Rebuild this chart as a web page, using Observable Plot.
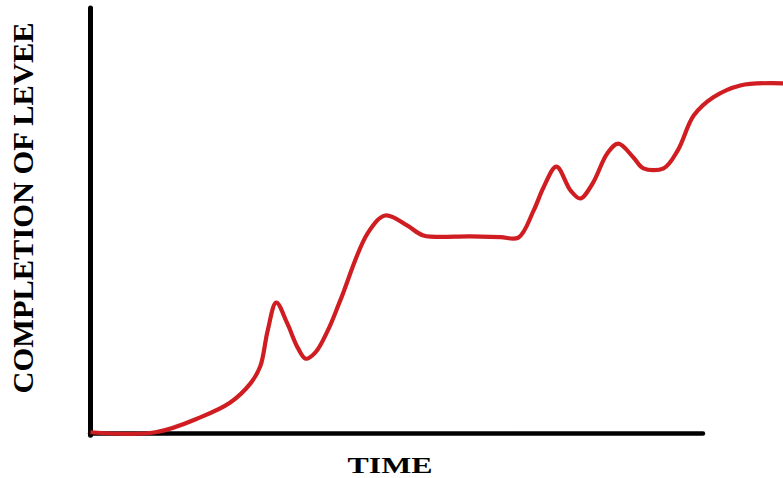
<!DOCTYPE html>
<html>
<head>
<meta charset="utf-8">
<script src="https://cdn.jsdelivr.net/npm/d3@7"></script>
<script src="https://cdn.jsdelivr.net/npm/@observablehq/plot@0.6"></script>
<style>
  html, body { margin: 0; padding: 0; background: #fff; }
</style>
</head>
<body>
<div id="chart"></div>
<script>
// Time (arbitrary units; the drawn x axis spans 0–100, the curve runs past it)
const time = [0, 10.6, 17.9, 22.8, 26.1, 27.7, 28.9, 30.3, 32.1, 33.8, 35.1, 36.7, 38.7, 40.8, 45.2, 48.1, 51.7, 54.3, 62.0, 66.9, 69.8, 72.3, 73.9, 76.0, 78.3, 79.9, 81.9, 84.3, 86.1, 88.6, 90.2, 93.5, 95.8, 98.4, 101.6, 106.0, 113.1];
// Completion of levee (arbitrary units, 0–100)
const completion = [0.3, 0.3, 3.8, 7.3, 11.8, 15.8, 24.2, 30.8, 25.9, 20.2, 17.6, 19.1, 24.2, 31.5, 47.1, 51.3, 48.9, 46.6, 46.4, 46.2, 46.1, 52.5, 57.9, 62.8, 57.2, 55.3, 58.8, 65.9, 68.2, 64.9, 62.4, 62.4, 66.6, 74.8, 79.1, 81.9, 82.4];
const xLabel = "TIME";
const yLabel = "COMPLETION OF LEVEE";

const data = time.map((t, i) => ({t, v: completion[i]}));

const chart = Plot.plot({
  width: 783,
  height: 478,
  marginLeft: 90,
  marginRight: 80,
  marginTop: 8,
  marginBottom: 45,
  x: {domain: [0, 100], axis: null},
  y: {domain: [0, 100], axis: null},
  marks: [
    Plot.ruleX([0], {y1: -0.5, y2: 100, stroke: "#000", strokeWidth: 5, strokeLinecap: "round"}),
    Plot.ruleY([0], {x1: 0, x2: 100, stroke: "#000", strokeWidth: 4.5, strokeLinecap: "round"}),
    Plot.line(data, {x: "t", y: "v", stroke: "#cf1d22", strokeWidth: 4.2, curve: "catmull-rom", strokeLinejoin: "round", strokeLinecap: "butt"}),
    Plot.text([xLabel], {frameAnchor: "bottom", textAnchor: "middle", dx: -7, dy: 32, fontFamily: "Liberation Serif", fontWeight: "bold", fontSize: 24, fill: "#000", lineAnchor: "middle"}),
    Plot.text([yLabel], {frameAnchor: "left", textAnchor: "middle", rotate: -90, dx: -67, dy: -13, fontFamily: "Liberation Serif", fontWeight: "bold", fontSize: 29, fill: "#000", lineAnchor: "middle"})
  ]
});

d3.select(chart).selectAll("text").each(function() {
  const s = d3.select(this);
  const txt = s.text();
  if (txt === xLabel) s.attr("textLength", 85).attr("lengthAdjust", "spacingAndGlyphs");
  if (txt === yLabel) s.attr("textLength", 371).attr("lengthAdjust", "spacingAndGlyphs");
});

document.getElementById("chart").appendChild(chart);
</script>
</body>
</html>
